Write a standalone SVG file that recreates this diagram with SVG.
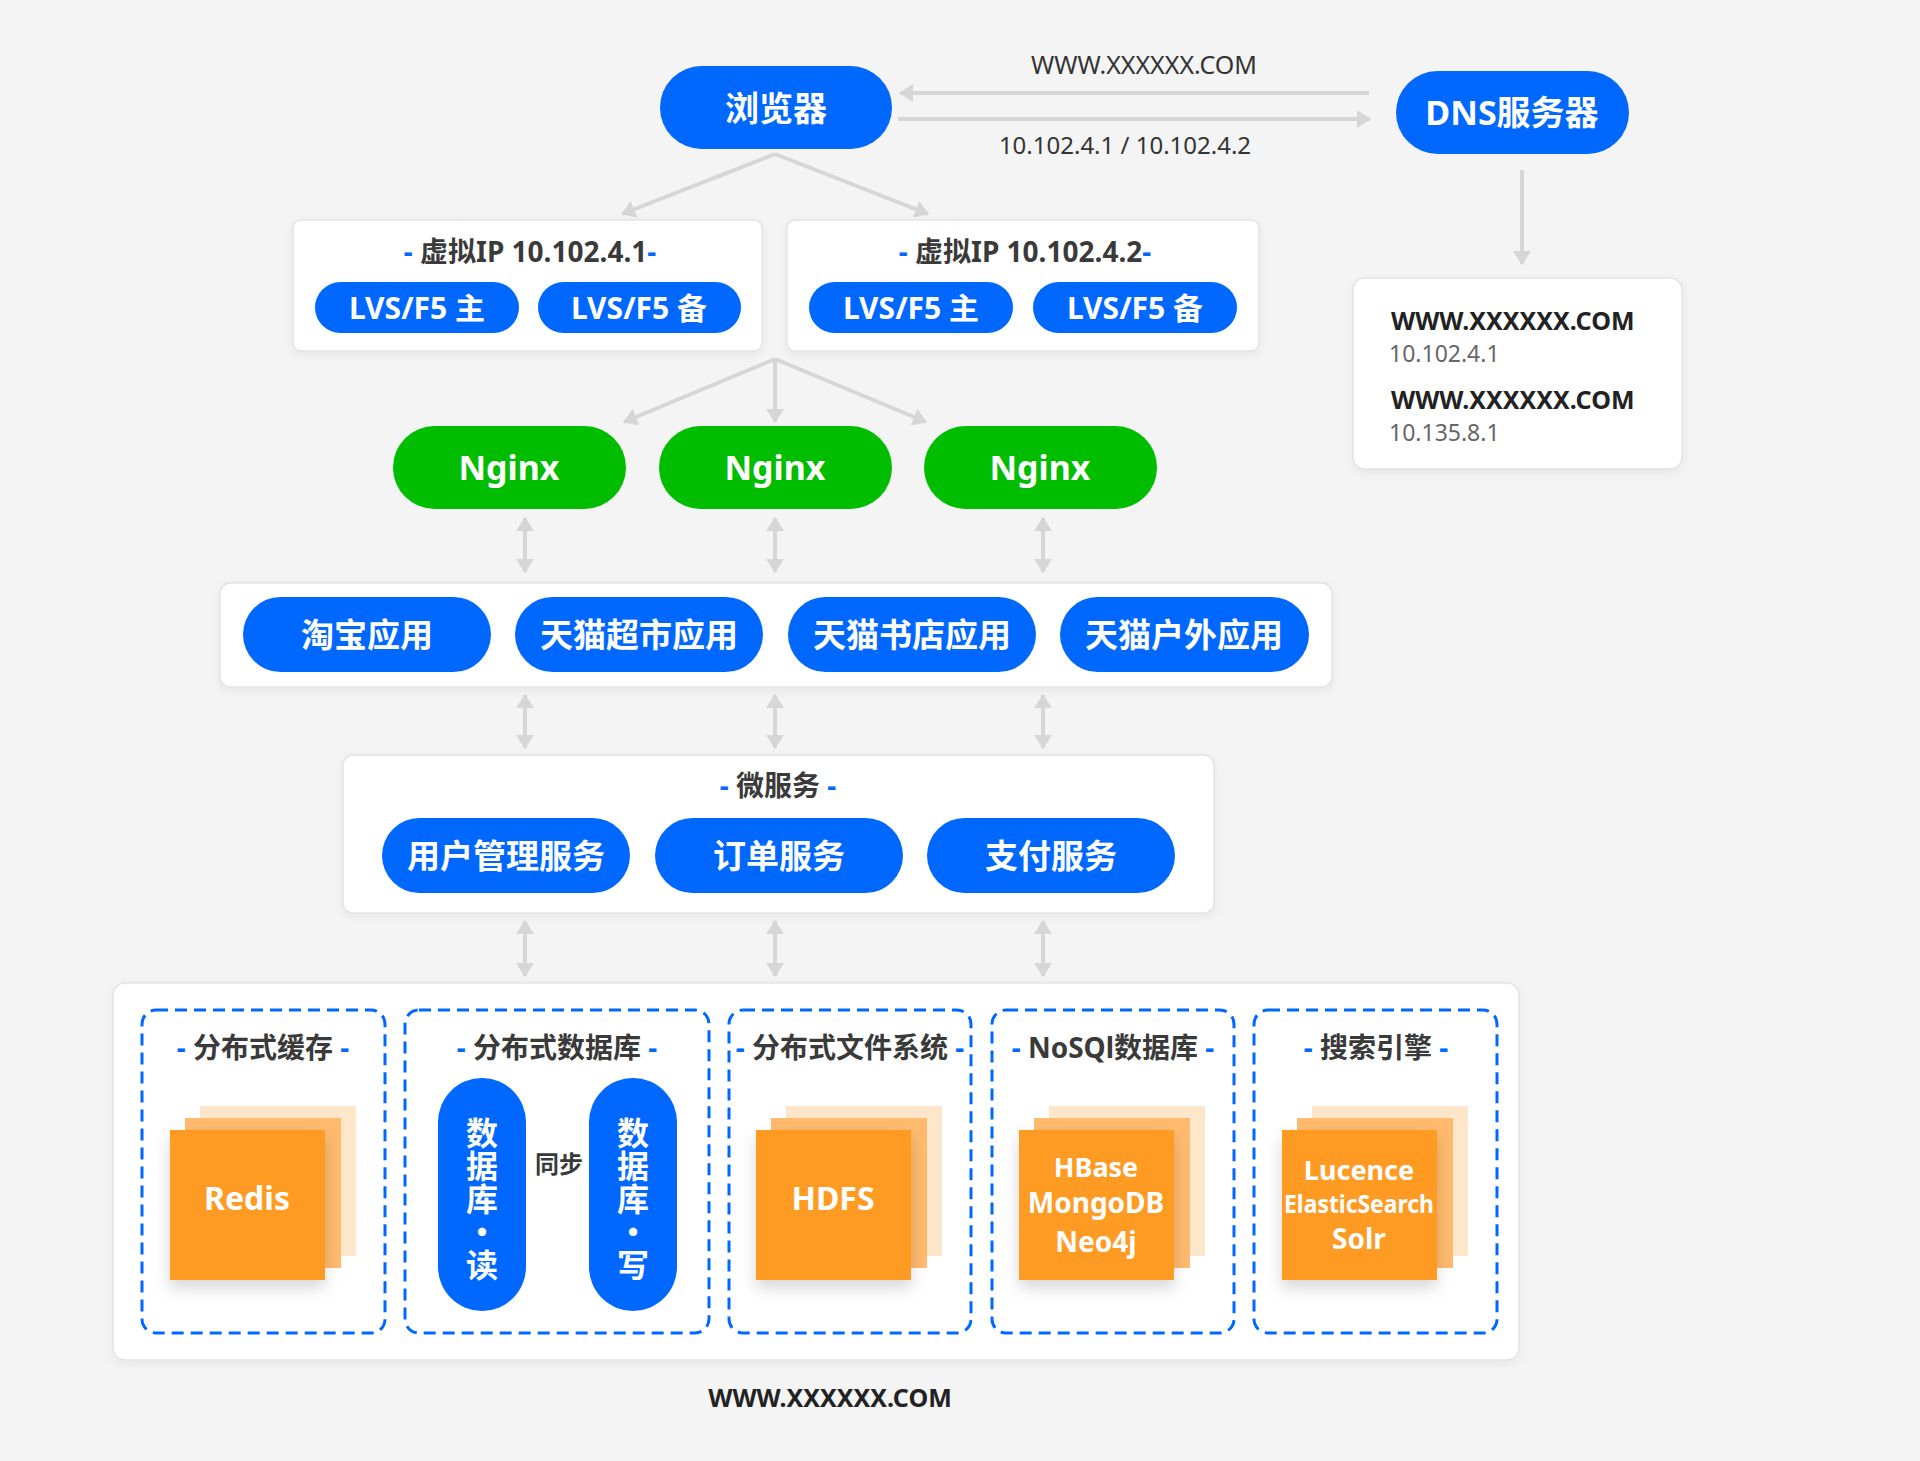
<svg xmlns="http://www.w3.org/2000/svg" width="1920" height="1461" viewBox="0 0 1920 1461">
<defs>
<style>
.card{fill:#ffffff;stroke:#e3e3e3;stroke-width:1.5;filter:url(#sh)}
.pill{fill:#0068ff}
.green{fill:#00bd00}
.t{font-family:"Noto Sans","Noto Sans CJK SC",sans-serif;font-weight:700;fill:#ffffff;text-anchor:middle;dominant-baseline:central}
.vt{font-family:"Noto Sans CJK SC",sans-serif;font-weight:700;fill:#ffffff;text-anchor:middle;writing-mode:vertical-rl;text-orientation:upright;letter-spacing:1px;font-size:32px}
.title{font-family:"Noto Sans","Noto Sans CJK SC",sans-serif;font-weight:700;fill:#3a3a3a;text-anchor:middle;dominant-baseline:central;font-size:28px}
.d{fill:#0068ff}
.lbl{font-family:"Noto Sans","Noto Sans CJK SC",sans-serif;fill:#333333;text-anchor:middle}
.dbox{fill:none;stroke:#0068ff;stroke-width:3;stroke-dasharray:12 7}
.o1{fill:#ff9a24;filter:url(#osh)}
.o2{fill:#ffba6e}
.o3{fill:#fee6ca}
.conn{stroke:#d6d6d6;stroke-width:4;fill:none}
</style>
<filter id="sh" x="-10%" y="-10%" width="120%" height="140%"><feDropShadow dx="0" dy="3" stdDeviation="5" flood-color="#000000" flood-opacity="0.06"/></filter>
<filter id="osh" x="-20%" y="-20%" width="150%" height="150%"><feDropShadow dx="0" dy="8" stdDeviation="8" flood-color="#000000" flood-opacity="0.16"/></filter>
<marker id="ah" viewBox="0 0 14 18" refX="13" refY="9" markerWidth="14" markerHeight="18" markerUnits="userSpaceOnUse" orient="auto-start-reverse"><path d="M0,0 L14,9 L0,18 z" fill="#d6d6d6"/></marker>
</defs>
<rect x="0" y="0" width="1920" height="1461" fill="#f4f4f4"/>

<g id="connectors">
<line class="conn" x1="1369" y1="93" x2="900" y2="93" marker-end="url(#ah)"/>
<line class="conn" x1="898" y1="119" x2="1370" y2="119" marker-end="url(#ah)"/>
<line class="conn" x1="775" y1="154" x2="622" y2="214" marker-end="url(#ah)"/>
<line class="conn" x1="775" y1="154" x2="928" y2="214" marker-end="url(#ah)"/>
<line class="conn" x1="1522" y1="170" x2="1522" y2="264" marker-end="url(#ah)"/>
<line class="conn" x1="775" y1="359" x2="624" y2="422" marker-end="url(#ah)"/>
<line class="conn" x1="775" y1="359" x2="775" y2="422" marker-end="url(#ah)"/>
<line class="conn" x1="775" y1="359" x2="926" y2="422" marker-end="url(#ah)"/>
<line class="conn" x1="525" y1="518" x2="525" y2="572" marker-start="url(#ah)" marker-end="url(#ah)"/>
<line class="conn" x1="775" y1="518" x2="775" y2="572" marker-start="url(#ah)" marker-end="url(#ah)"/>
<line class="conn" x1="1043" y1="518" x2="1043" y2="572" marker-start="url(#ah)" marker-end="url(#ah)"/>
<line class="conn" x1="525" y1="695" x2="525" y2="748" marker-start="url(#ah)" marker-end="url(#ah)"/>
<line class="conn" x1="775" y1="695" x2="775" y2="748" marker-start="url(#ah)" marker-end="url(#ah)"/>
<line class="conn" x1="1043" y1="695" x2="1043" y2="748" marker-start="url(#ah)" marker-end="url(#ah)"/>
<line class="conn" x1="525" y1="921" x2="525" y2="976" marker-start="url(#ah)" marker-end="url(#ah)"/>
<line class="conn" x1="775" y1="921" x2="775" y2="976" marker-start="url(#ah)" marker-end="url(#ah)"/>
<line class="conn" x1="1043" y1="921" x2="1043" y2="976" marker-start="url(#ah)" marker-end="url(#ah)"/>
<line class="conn" x1="582" y1="1198" x2="532" y2="1198" marker-end="url(#ah)"/>
<line class="conn" x1="533" y1="1222" x2="583" y2="1222" marker-end="url(#ah)"/>
</g>

<g id="dns-labels">
<text class="lbl" x="1144" y="74" font-size="25">WWW.XXXXXX.COM</text>
<text class="lbl" x="1125" y="154" font-size="24">10.102.4.1 / 10.102.4.2</text>
</g>

<g id="browser">
<rect class="pill" x="660" y="66" width="232" height="83" rx="41.5"/>
<text class="t" x="776" y="108" font-size="34">浏览器</text>
</g>

<g id="dns">
<rect class="pill" x="1396" y="71" width="233" height="83" rx="41.5"/>
<text class="t" x="1512" y="112" font-size="34">DNS服务器</text>
</g>

<g id="dns-result">
<rect class="card" x="1353" y="278" width="329" height="191" rx="12"/>
<text x="1391" y="330" font-family="Noto Sans, sans-serif" font-weight="700" font-size="25" fill="#222222">WWW.XXXXXX.COM</text>
<text x="1389" y="362" font-family="Noto Sans, sans-serif" font-size="23" fill="#666666">10.102.4.1</text>
<text x="1391" y="409" font-family="Noto Sans, sans-serif" font-weight="700" font-size="25" fill="#222222">WWW.XXXXXX.COM</text>
<text x="1389" y="441" font-family="Noto Sans, sans-serif" font-size="23" fill="#666666">10.135.8.1</text>
</g>

<g id="vip1">
<rect class="card" x="293" y="220" width="469" height="131" rx="8"/>
<text class="title" x="530" y="251"><tspan class="d">- </tspan>虚拟IP 10.102.4.1<tspan class="d">-</tspan></text>
<rect class="pill" x="315" y="282" width="204" height="51" rx="25.5"/>
<text class="t" x="417" y="307" font-size="30">LVS/F5 主</text>
<rect class="pill" x="538" y="282" width="203" height="51" rx="25.5"/>
<text class="t" x="639" y="307" font-size="30">LVS/F5 备</text>
</g>

<g id="vip2">
<rect class="card" x="787" y="220" width="472" height="131" rx="8"/>
<text class="title" x="1025" y="251"><tspan class="d">- </tspan>虚拟IP 10.102.4.2<tspan class="d">-</tspan></text>
<rect class="pill" x="809" y="282" width="204" height="51" rx="25.5"/>
<text class="t" x="911" y="307" font-size="30">LVS/F5 主</text>
<rect class="pill" x="1033" y="282" width="204" height="51" rx="25.5"/>
<text class="t" x="1135" y="307" font-size="30">LVS/F5 备</text>
</g>

<g id="nginx1">
<rect class="green" x="393" y="426" width="233" height="83" rx="41.5"/>
<text class="t" x="509" y="467" font-size="34">Nginx</text>
</g>
<g id="nginx2">
<rect class="green" x="659" y="426" width="233" height="83" rx="41.5"/>
<text class="t" x="775" y="467" font-size="34">Nginx</text>
</g>
<g id="nginx3">
<rect class="green" x="924" y="426" width="233" height="83" rx="41.5"/>
<text class="t" x="1040" y="467" font-size="34">Nginx</text>
</g>

<g id="apps">
<rect class="card" x="220" y="583" width="1112" height="104" rx="10"/>
<rect class="pill" x="243" y="597" width="248" height="75" rx="37.5"/>
<text class="t" x="367" y="634" font-size="33">淘宝应用</text>
<rect class="pill" x="515" y="597" width="248" height="75" rx="37.5"/>
<text class="t" x="639" y="634" font-size="33">天猫超市应用</text>
<rect class="pill" x="788" y="597" width="248" height="75" rx="37.5"/>
<text class="t" x="912" y="634" font-size="33">天猫书店应用</text>
<rect class="pill" x="1060" y="597" width="249" height="75" rx="37.5"/>
<text class="t" x="1184" y="634" font-size="33">天猫户外应用</text>
</g>

<g id="microservices">
<rect class="card" x="343" y="755" width="871" height="158" rx="10"/>
<text class="title" x="778" y="785"><tspan class="d">- </tspan>微服务<tspan class="d"> -</tspan></text>
<rect class="pill" x="382" y="818" width="248" height="75" rx="37.5"/>
<text class="t" x="506" y="855" font-size="33">用户管理服务</text>
<rect class="pill" x="655" y="818" width="248" height="75" rx="37.5"/>
<text class="t" x="779" y="855" font-size="33">订单服务</text>
<rect class="pill" x="927" y="818" width="248" height="75" rx="37.5"/>
<text class="t" x="1051" y="855" font-size="33">支付服务</text>
</g>

<g id="storage">
<rect class="card" x="113" y="983" width="1406" height="377" rx="12"/>
</g>

<g id="cache">
<rect class="dbox" x="142" y="1010" width="243" height="323" rx="14"/>
<text class="title" x="263" y="1047"><tspan class="d">- </tspan>分布式缓存<tspan class="d"> -</tspan></text>
<rect class="o3" x="200" y="1106" width="156" height="150"/>
<rect class="o2" x="185" y="1118" width="156" height="150"/>
<rect class="o1" x="170" y="1130" width="155" height="150"/>
<text class="t" x="247" y="1197" font-size="32">Redis</text>
</g>

<g id="database">
<rect class="dbox" x="405" y="1010" width="304" height="323" rx="14"/>
<text class="title" x="557" y="1047"><tspan class="d">- </tspan>分布式数据库<tspan class="d"> -</tspan></text>
<rect class="pill" x="438" y="1078" width="88" height="233" rx="44"/>
<text class="vt" x="482" y="1199">数据库·读</text>
<rect class="pill" x="589" y="1078" width="88" height="233" rx="44"/>
<text class="vt" x="633" y="1199">数据库·写</text>
<text class="title" x="559" y="1163" style="font-size:24px">同步</text>
</g>

<g id="filesystem">
<rect class="dbox" x="729" y="1010" width="242" height="323" rx="14"/>
<text class="title" x="850" y="1047"><tspan class="d">- </tspan>分布式文件系统<tspan class="d"> -</tspan></text>
<rect class="o3" x="786" y="1106" width="156" height="150"/>
<rect class="o2" x="771" y="1118" width="156" height="150"/>
<rect class="o1" x="756" y="1130" width="155" height="150"/>
<text class="t" x="833" y="1197" font-size="32">HDFS</text>
</g>

<g id="nosql">
<rect class="dbox" x="992" y="1010" width="242" height="323" rx="14"/>
<text class="title" x="1113" y="1047"><tspan class="d">- </tspan>NoSQl数据库<tspan class="d"> -</tspan></text>
<rect class="o3" x="1049" y="1106" width="156" height="150"/>
<rect class="o2" x="1034" y="1118" width="156" height="150"/>
<rect class="o1" x="1019" y="1130" width="155" height="150"/>
<text class="t" x="1096" y="1166" font-size="27">HBase</text>
<text class="t" x="1096" y="1202" font-size="28">MongoDB</text>
<text class="t" x="1096" y="1241" font-size="28">Neo4j</text>
</g>

<g id="search">
<rect class="dbox" x="1254" y="1010" width="243" height="323" rx="14"/>
<text class="title" x="1376" y="1047"><tspan class="d">- </tspan>搜索引擎<tspan class="d"> -</tspan></text>
<rect class="o3" x="1312" y="1106" width="156" height="150"/>
<rect class="o2" x="1297" y="1118" width="156" height="150"/>
<rect class="o1" x="1282" y="1130" width="155" height="150"/>
<text class="t" x="1359" y="1169" font-size="27">Lucence</text>
<text class="t" x="1359" y="1203" font-size="25" textLength="150" lengthAdjust="spacingAndGlyphs">ElasticSearch</text>
<text class="t" x="1359" y="1238" font-size="28">Solr</text>
</g>

<g id="footer">
<text x="830" y="1407" font-family="Noto Sans, sans-serif" font-weight="700" font-size="25" fill="#222222" text-anchor="middle">WWW.XXXXXX.COM</text>
</g>
</svg>
